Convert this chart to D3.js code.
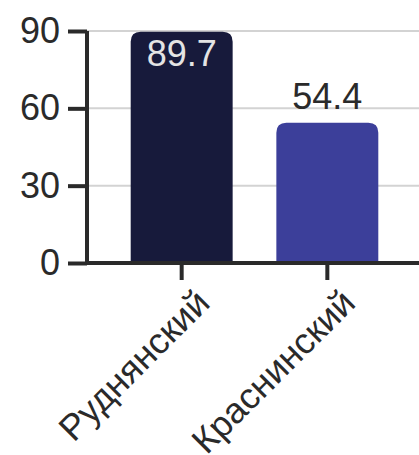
<!DOCTYPE html>
<html>
<head>
<meta charset="utf-8">
<script src="https://cdn.jsdelivr.net/npm/d3@7/dist/d3.min.js"></script>
<style>
  html, body { margin: 0; padding: 0; background: #fff; }
  svg { display: block; font-family: "Liberation Sans", Arial, sans-serif; }
</style>
</head>
<body>
<svg id="chart" width="419" height="455"></svg>
<script>
// Districts and their values
const categories = ["Руднянский", "Краснинский"];
const values = [89.7, 54.4];
const barColors = ["#171a3b", "#3c3f9a"];
const yTicks = [0, 30, 60, 90];

const svg = d3.select("#chart");
const margin = { left: 87, right: 0, top: 31, bottom: 192 };
const width = 419, height = 455;
const y0 = height - margin.bottom;

const x = d3.scaleBand()
  .domain(categories)
  .range([margin.left, 422])
  .paddingInner(0.3)
  .paddingOuter(0.3);

const y = d3.scaleLinear()
  .domain([0, 90])
  .range([y0, margin.top]);

// Gridlines
svg.append("g")
  .selectAll("line")
  .data(yTicks.slice(1))
  .join("line")
  .attr("x1", margin.left)
  .attr("x2", width)
  .attr("y1", d => y(d))
  .attr("y2", d => y(d))
  .attr("stroke", "#d3d3d3")
  .attr("stroke-width", 2);

// Bars with rounded top corners
const r = 10;
function barPath(d, i) {
  const x0 = x(categories[i]);
  const w = x.bandwidth();
  const top = y(d);
  const bottom = y(0);
  return `M${x0},${bottom}V${top + r}Q${x0},${top} ${x0 + r},${top}` +
         `H${x0 + w - r}Q${x0 + w},${top} ${x0 + w},${top + r}V${bottom}Z`;
}
svg.append("g")
  .selectAll("path")
  .data(values)
  .join("path")
  .attr("d", (d, i) => barPath(d, i))
  .attr("fill", (d, i) => barColors[i]);

// Value labels: inside the bar when it reaches the top, above otherwise
svg.append("g")
  .selectAll("text")
  .data(values)
  .join("text")
  .attr("x", (d, i) => x(categories[i]) + x.bandwidth() / 2)
  .attr("y", d => d > 80 ? y(d) + 34 : y(d) - 14)
  .attr("text-anchor", "middle")
  .attr("font-size", 36)
  .attr("fill", d => d > 80 ? "#e4e4e4" : "#2a2a2a")
  .text(d => d.toFixed(1));

// Y axis
const yAxis = d3.axisLeft(y).tickValues(yTicks).tickSize(19).tickPadding(8);
const gy = svg.append("g")
  .attr("transform", `translate(${margin.left},0)`)
  .call(yAxis);
gy.select(".domain").attr("stroke", "#2a2a2a").attr("stroke-width", 4)
  .attr("d", `M0,${y(90)}V${y(0)}`);
gy.selectAll(".tick line").attr("stroke", "#2a2a2a").attr("stroke-width", 4);
gy.selectAll(".tick text").attr("font-size", 36).attr("fill", "#2a2a2a")
  .attr("font-family", "Liberation Sans, Arial, sans-serif");

// X axis
const xAxis = d3.axisBottom(x).tickSize(17).tickPadding(0);
const gx = svg.append("g")
  .attr("transform", `translate(0,${y0})`)
  .call(xAxis);
gx.select(".domain").attr("stroke", "#2a2a2a").attr("stroke-width", 4)
  .attr("d", `M${margin.left - 2},0H${width}`);
gx.selectAll(".tick line").attr("stroke", "#2a2a2a").attr("stroke-width", 4);
gx.selectAll(".tick text")
  .attr("font-size", 36)
  .attr("fill", "#2a2a2a")
  .attr("font-family", "Liberation Sans, Arial, sans-serif")
  .attr("text-anchor", "end")
  .attr("dy", 0)
  .attr("y", 0)
  .attr("transform", "translate(30,42) rotate(-45)");
</script>
</body>
</html>
